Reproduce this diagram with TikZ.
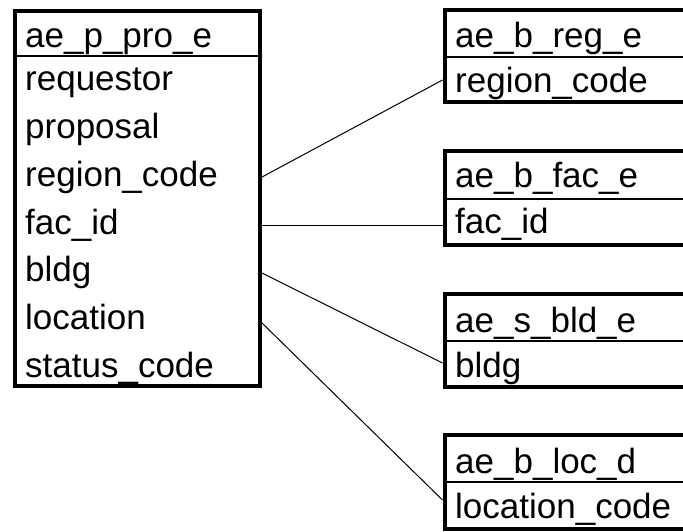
\documentclass[tikz,border=0pt]{standalone}
\usepackage{fontspec}
\setmainfont{Liberation Sans}
\begin{document}
\begin{tikzpicture}[x=1pt,y=-1pt,
  tbl/.style={draw=black, line width=4pt, inner sep=0pt, fill=white},
  fld/.style={anchor=base west, inner sep=0pt, font=\fontsize{35}{40}\selectfont, text=black},
  divline/.style={line width=1.5pt, black},
  link/.style={line width=1pt, black}]
\useasboundingbox (0,0) rectangle (683,531);
\clip (0,0) rectangle (683,531);
\fill[white] (0,0) rectangle (683,531);
% left table
\node[tbl, minimum width=245pt, minimum height=375.5pt] (pro) at (137.5,198.25) {};
\draw[divline] (pro.west |- 0,56) -- (pro.east |- 0,56);
\node[fld] (ph) at (25,47) {ae\_p\_pro\_e};
\node[fld] (p1) at (25,90) {requestor};
\node[fld] (p2) at (25,138) {proposal};
\node[fld] (p3) at (25,186) {region\_code};
\node[fld] (p4) at (25,234) {fac\_id};
\node[fld] (p5) at (25,281) {bldg};
\node[fld] (p6) at (25,329) {location};
\node[fld] (p7) at (25,377) {status\_code};
% right tables
\node[tbl, minimum width=275.5pt, minimum height=92pt] (reg) at (582.25,56) {};
\draw[divline] (reg.west |- 0,57) -- (reg.east |- 0,57);
\node[fld] (rh) at (455,47) {ae\_b\_reg\_e};
\node[fld] (r1) at (455,92) {region\_code};
\node[tbl, minimum width=275.5pt, minimum height=94pt] (fac) at (582.25,198) {};
\draw[divline] (fac.west |- 0,199) -- (fac.east |- 0,199);
\node[fld] (fh) at (455,187) {ae\_b\_fac\_e};
\node[fld] (f1) at (455,233) {fac\_id};
\node[tbl, minimum width=275.5pt, minimum height=93pt] (bld) at (582.25,340.5) {};
\draw[divline] (bld.west |- 0,341) -- (bld.east |- 0,341);
\node[fld] (bh) at (455,332) {ae\_s\_bld\_e};
\node[fld] (b1) at (455,377) {bldg};
\node[tbl, minimum width=275.5pt, minimum height=94pt] (loc) at (582.25,482) {};
\draw[divline] (loc.west |- 0,482) -- (loc.east |- 0,482);
\node[fld] (lh) at (455,473) {ae\_b\_loc\_d};
\node[fld] (l1) at (455,518) {location\_code};
% connectors
\coordinate (ra) at (reg.west |- 0,80);
\coordinate (fa) at (fac.west |- 0,225);
\coordinate (ba) at (bld.west |- 0,363);
\coordinate (la) at (loc.west |- 0,500);
\coordinate (pa) at (pro.east |- 0,177);
\coordinate (pb) at (pro.east |- 0,225);
\coordinate (pc) at (pro.east |- 0,273);
\coordinate (pd) at (pro.east |- 0,323);
\draw[link] (pa) -- (ra);
\draw[link] (pb) -- (fa);
\draw[link] (pc) -- (ba);
\draw[link] (pd) -- (la);
\end{tikzpicture}
\end{document}
